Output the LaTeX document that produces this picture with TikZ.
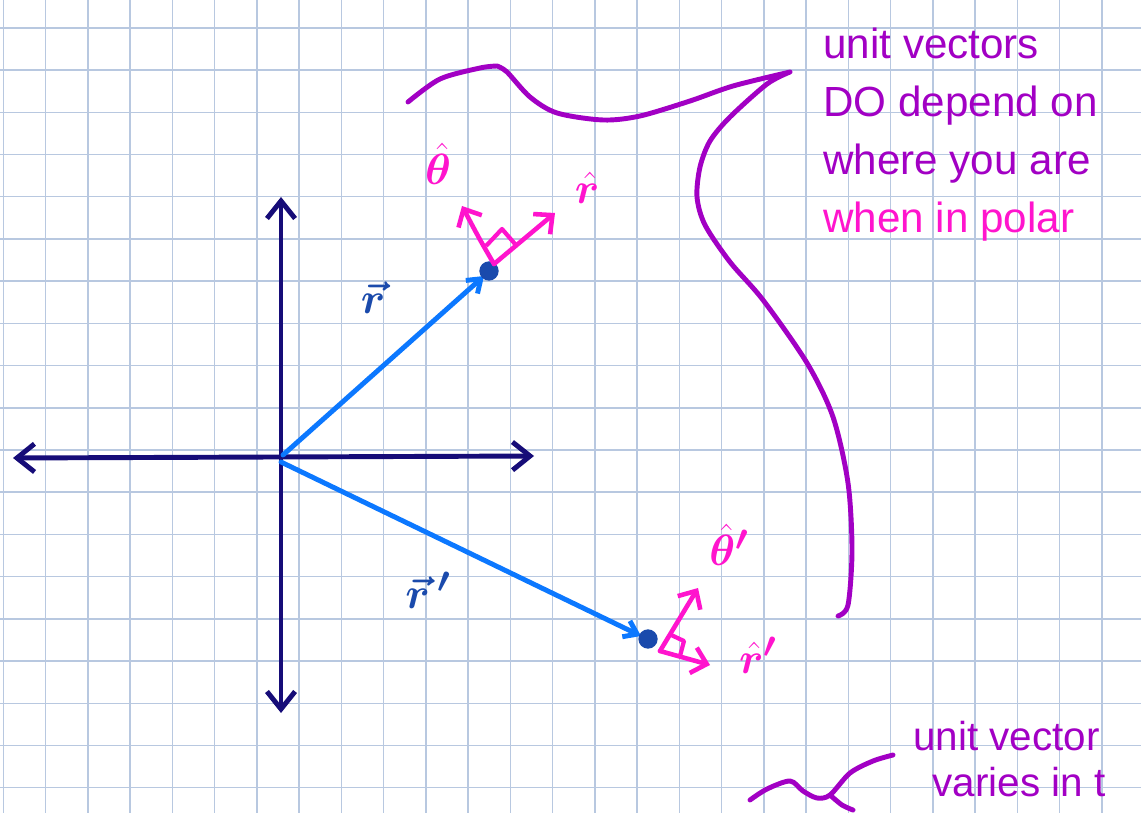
\documentclass[tikz,border=0pt]{standalone}
\usepackage{fontspec}
\setmainfont{Liberation Sans}
\usepackage{bm}
\usetikzlibrary{arrows.meta}

\definecolor{malla}{RGB}{184,200,224}
\definecolor{marino}{RGB}{22,12,120}
\definecolor{celeste}{RGB}{12,120,255}
\definecolor{azul}{RGB}{26,74,172}
\definecolor{rosa}{RGB}{255,20,205}
\definecolor{morado}{RGB}{162,0,196}

\begin{document}
\begin{tikzpicture}[
            x=0.02cm, y=-0.02cm,
            grid/.style  ={draw=malla, line width=0.8pt},
            eje/.style   ={draw=marino, line width=2.8pt, line cap=round,
                           {Straight Barb[length=10pt,width=16pt]}-{Straight Barb[length=10pt,width=16pt]}},
            vect/.style  ={draw=celeste, line width=2.8pt, line cap=round,
                           -{Straight Barb[length=7pt,width=10pt]}},
            unit/.style  ={draw=rosa, line width=2.6pt, line cap=round, line join=round,
                           -{Straight Barb[length=8pt,width=15pt]}},
            caja/.style  ={draw=rosa, line width=2.4pt, line join=round},
            nota/.style  ={draw=morado, line width=2.8pt, line cap=round, line join=round},
            punto/.style ={fill=azul},
            lbl/.style   ={inner sep=0pt, font=\fontsize{31}{31}\selectfont}
        ]
            \useasboundingbox (0,0) rectangle (1141,813);
            \fill[white] (0,0) rectangle (1141,813);

            %-----------------  Papel cuadriculado  --------------------
            \foreach \i in {0,...,26}
                \draw[grid] (3.3+42.25*\i,0) -- (3.3+42.25*\i,813);
            \foreach \j in {0,...,18}
                \draw[grid] (0,28+42.2*\j) -- (1141,28+42.2*\j);

            %-----------------  Ejes  --------------------
            \coordinate (O)  at (281,457);      % origen
            \coordinate (xl) at (13,458);
            \coordinate (xr) at (534,456);
            \coordinate (yt) at (281,197);
            \coordinate (yb) at (281,713);
            \draw[eje] (xl) -- (xr);
            \draw[eje] (yt) -- (yb);

            %-----------------  Vectores de posicion  --------------------
            \coordinate (P)  at (489,271);      % punto arriba
            \coordinate (Q)  at (648,639);      % punto abajo
            \draw[vect] (283,455) -- (484,276);
            \draw[vect] (281,462) -- (641,636);
            \fill[punto] (P) circle (5.5pt);
            \fill[punto] (Q) circle (5.5pt);

            \node[lbl, text=azul] (lr)  at (373,298) {$\bm{\vec{r}}$};
            \node[lbl, text=azul] (lrp) at (428,590) {$\bm{\vec{r}\,'}$};

            % Vectores unitarios en P
            \coordinate (P0) at (494,264);
            \coordinate (rP) at (555,213);
            \coordinate (tP) at (462,206);
            \draw[unit] (P0) -- (rP);
            \draw[unit] (P0) .. controls (480,240) .. (tP);
            \draw[caja] (486,246) -- (502,229) -- (515,244);
            \node[lbl, text=rosa] (lt)  at (438,164) {$\bm{\hat{\theta}}$};
            \node[lbl, text=rosa] (lrh) at (587,188) {$\bm{\hat{r}}$};

            % Vectores unitarios en Q
            \coordinate (Q0) at (660,651);
            \coordinate (rQ) at (710,665);
            \coordinate (tQ) at (698,588);
            \draw[unit] (Q0) -- (rQ);
            \draw[unit] (Q0) -- (tQ);
            \draw[caja] (669,634) -- (684,641) -- (680,656);
            \node[lbl, text=rosa] (ltp)  at (729,545) {$\bm{\hat{\theta}'}$};
            \node[lbl, text=rosa] (lrhp) at (758,655) {$\bm{\hat{r}'}$};

            %-----------------  Curva de la nota  --------------------
            \draw[nota] plot[smooth] coordinates {(408,102) (440,79) (480,68) (497,66)}
                -- plot[smooth] coordinates {(497,66) (507,72) (530,97) (557,113) (603,120)
                    (640,116) (690,101) (733,86) (790,72)}
                -- plot[smooth] coordinates {(790,72) (767,84) (730,117) (710,141) (700,167)
                    (697,197) (705,225) (730,262) (763,300) (807,363) (833,417) (848,483)
                    (852,550) (848,605) (838,616)};

            \node[anchor=north west, inner sep=0pt, text=morado, align=left,
                  font=\fontsize{24}{33}\selectfont] (n1) at (823,28)
                {unit vectors\\DO depend on\\where you are\\\textcolor{rosa}{when in polar}};

            %-----------------  Nota de abajo  --------------------
            \draw[nota] plot[smooth] coordinates {(750,800) (767,789) (790,781) (803,791)
                (817,798) (830,795) (850,773) (873,761) (893,755)};
            \draw[nota] plot[smooth] coordinates {(830,795) (842,805) (853,810)};

            \node[anchor=north west, inner sep=0pt, text=morado, align=left,
                  font=\fontsize{23}{26}\selectfont] (n2) at (913,721)
                {unit vector\\\hspace*{11pt}varies in t};
        \end{tikzpicture}
\end{document}
